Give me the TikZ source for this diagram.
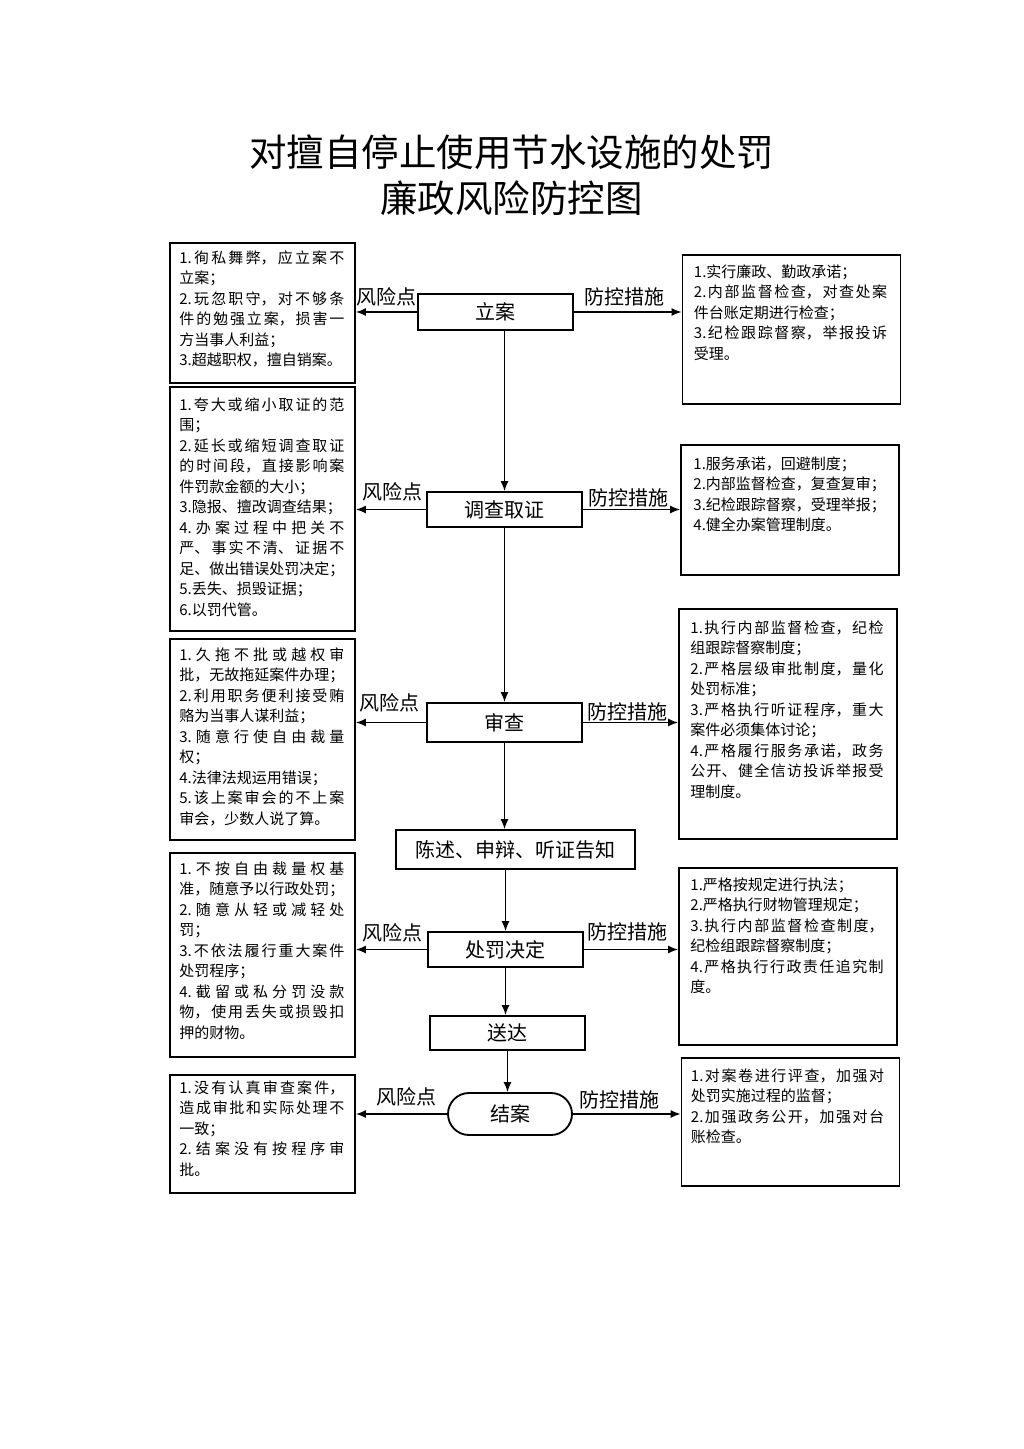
\documentclass[tikz,border=0pt]{standalone}
\usepackage{fontspec}
\usetikzlibrary{arrows.meta}
\setmainfont{Noto Sans CJK SC}
\XeTeXlinebreaklocale "zh"
\XeTeXlinebreakskip=0pt plus 2pt
\tolerance=10000
\hbadness=10000

\begin{document}
\begin{tikzpicture}[x=0.6pt, y=-0.6pt,
		box/.style={draw=black, line width=1.1pt, inner sep=0pt},
		flow/.style={box, minimum width=93pt, font=\fontsize{12}{14}\selectfont},
		side/.style={box, minimum width=111pt},
		sider/.style={box, minimum width=130.8pt},
		tag/.style={inner sep=0pt, font=\fontsize{12}{14}\selectfont},
		txt/.style={anchor=north west, inner sep=0pt, align=justify, text width=99pt, font=\fontsize{9}{12.3}\selectfont},
		txtr/.style={txt, text width=116pt},
		arr/.style={draw=black, line width=0.9pt, -{Latex[length=6pt,width=4.8pt]}}]
	\useasboundingbox (0,0) rectangle (1024,1449);

	% title
	\node[align=center, font=\fontsize{22.5}{27.6}\selectfont] (title) at (511.5,175) {对擅自停止使用节水设施的处罚\\廉政风险防控图};

	% main flow
	\node[flow, minimum height=21.6pt] (lian) at (495.5,312) {立案};
	\node[flow, minimum height=21pt] (diaocha) at (504.5,509.5) {调查取证};
	\node[flow, minimum height=23.4pt] (shencha) at (504.5,722.5) {审查};
	\node[flow, minimum width=143.4pt, minimum height=23.4pt] (chenshu) at (515.5,849.5) {陈述、申辩、听证告知};
	\node[flow, minimum height=21pt] (chufa) at (505.5,949.5) {处罚决定};
	\node[flow, minimum height=20.4pt] (songda) at (507.5,1033) {送达};
	\node[flow, minimum width=74.4pt, minimum height=25.2pt, rounded corners=12.6pt] (jiean) at (510,1114) {结案};

	% risk points
	\node[side, minimum height=84pt] (risk1) at (262.5,313) {};
	\node[side, minimum height=146.4pt] (risk2) at (262.5,509) {};
	\node[side, minimum height=120.6pt] (risk3) at (262.5,739.5) {};
	\node[side, minimum height=122.4pt] (risk4) at (262.5,955) {};
	\node[side, minimum height=70.8pt] (risk5) at (262.5,1134) {};

	\node[txt] (risk1t) at ([shift={(10,8)}]risk1.north west) {1.徇私舞弊，应立案不\linebreak 立案；\\
		2.玩忽职守，对不够条\linebreak 件的勉强立案，损害一\linebreak 方当事人利益；\\
		3.超越职权，擅自销案。};
	\node[txt] (risk2t) at ([shift={(10,11)}]risk2.north west) {1.夸大或缩小取证的范\linebreak 围；\\
		2.延长或缩短调查取证\linebreak 的时间段，直接影响案\linebreak 件罚款金额的大小；\\
		3.隐报、擅改调查结果；\\
		4.办案过程中把关不\linebreak 严、事实不清、证据不\linebreak 足、做出错误处罚决定；\\
		5.丢失、损毁证据；\\
		6.以罚代管。};
	\node[txt] (risk3t) at ([shift={(10,9)}]risk3.north west) {1.久拖不批或越权审\linebreak 批，无故拖延案件办理；\\
		2.利用职务便利接受贿\linebreak 赂为当事人谋利益；\\
		3.随意行使自由裁量\linebreak 权；\\
		4.法律法规运用错误；\\
		5.该上案审会的不上案\linebreak 审会，少数人说了算。};
	\node[txt] (risk4t) at ([shift={(10,9)}]risk4.north west) {1.不按自由裁量权基\linebreak 准，随意予以行政处罚；\\
		2.随意从轻或减轻处\linebreak 罚；\\
		3.不依法履行重大案件\linebreak 处罚程序；\\
		4.截留或私分罚没款\linebreak 物，使用丢失或损毁扣\linebreak 押的财物。};
	\node[txt] (risk5t) at ([shift={(10,6)}]risk5.north west) {1.没有认真审查案件，\linebreak 造成审批和实际处理不\linebreak 一致；\\
		2.结案没有按程序审\linebreak 批。};

	% control measures
	\node[sider, minimum height=89.4pt] (ctrl1) at (791.5,329.5) {};
	\node[sider, minimum height=78pt] (ctrl2) at (790,510) {};
	\node[sider, minimum height=138pt] (ctrl3) at (788,724) {};
	\node[sider, minimum height=106.2pt] (ctrl4) at (788,956.5) {};
	\node[sider, minimum height=76.8pt] (ctrl5) at (790.5,1122) {};

	\node[txtr] (ctrl1t) at ([shift={(12,10)}]ctrl1.north west) {1.实行廉政、勤政承诺；\\
		2.内部监督检查，对查处案\linebreak 件台账定期进行检查；\\
		3.纪检跟踪督察，举报投诉\linebreak 受理。};
	\node[txtr] (ctrl2t) at ([shift={(13,12)}]ctrl2.north west) {1.服务承诺，回避制度；\\
		2.内部监督检查，复查复审；\\
		3.纪检跟踪督察，受理举报；\\
		4.健全办案管理制度。};
	\node[txtr] (ctrl3t) at ([shift={(12,12)}]ctrl3.north west) {1.执行内部监督检查，纪检\linebreak 组跟踪督察制度；\\
		2.严格层级审批制度，量化\linebreak 处罚标准；\\
		3.严格执行听证程序，重大\linebreak 案件必须集体讨论；\\
		4.严格履行服务承诺，政务\linebreak 公开、健全信访投诉举报受\linebreak 理制度。};
	\node[txtr] (ctrl4t) at ([shift={(12,10)}]ctrl4.north west) {1.严格按规定进行执法；\\
		2.严格执行财物管理规定；\\
		3.执行内部监督检查制度，\linebreak 纪检组跟踪督察制度；\\
		4.严格执行行政责任追究制\linebreak 度。};
	\node[txtr] (ctrl5t) at ([shift={(10,11)}]ctrl5.north west) {1.对案卷进行评查，加强对\linebreak 处罚实施过程的监督；\\
		2.加强政务公开，加强对台\linebreak 账检查。};

	% labels on the side arrows
	\node[tag] (tag1l) at (386,297) {风险点};
	\node[tag] (tag1r) at (624,297) {防控措施};
	\node[tag] (tag2l) at (392,492) {风险点};
	\node[tag] (tag2r) at (628,498) {防控措施};
	\node[tag] (tag3l) at (389,703) {风险点};
	\node[tag] (tag3r) at (627,712) {防控措施};
	\node[tag] (tag4l) at (392,933) {风险点};
	\node[tag] (tag4r) at (627,932) {防控措施};
	\node[tag] (tag5l) at (406,1097) {风险点};
	\node[tag] (tag5r) at (619,1100) {防控措施};

	% flow arrows
	\draw[arr] (lian.south -| diaocha.north) -- (diaocha.north);
	\draw[arr] (diaocha.south) -- (shencha.north);
	\draw[arr] (shencha.south) -- (shencha.south |- chenshu.north);
	\draw[arr] (chenshu.south -| chufa.north) -- (chufa.north);
	\draw[arr] (chufa.south) -- (chufa.south |- songda.north);
	\draw[arr] (songda.south) -- (songda.south |- jiean.north);

	% side arrows
	\draw[arr] (lian.west) -- (lian.west -| risk1.east);
	\draw[arr] (lian.east) -- (lian.east -| ctrl1.west);
	\draw[arr] (diaocha.west) -- (diaocha.west -| risk2.east);
	\draw[arr] (diaocha.east) -- (diaocha.east -| ctrl2.west);
	\draw[arr] (shencha.west) -- (shencha.west -| risk3.east);
	\draw[arr] (shencha.east) -- (shencha.east -| ctrl3.west);
	\draw[arr] (chufa.west) -- (chufa.west -| risk4.east);
	\draw[arr] (chufa.east) -- (chufa.east -| ctrl4.west);
	\draw[arr] (jiean.west) -- (jiean.west -| risk5.east);
	\draw[arr] (jiean.east) -- (jiean.east -| ctrl5.west);
\end{tikzpicture}
\end{document}
